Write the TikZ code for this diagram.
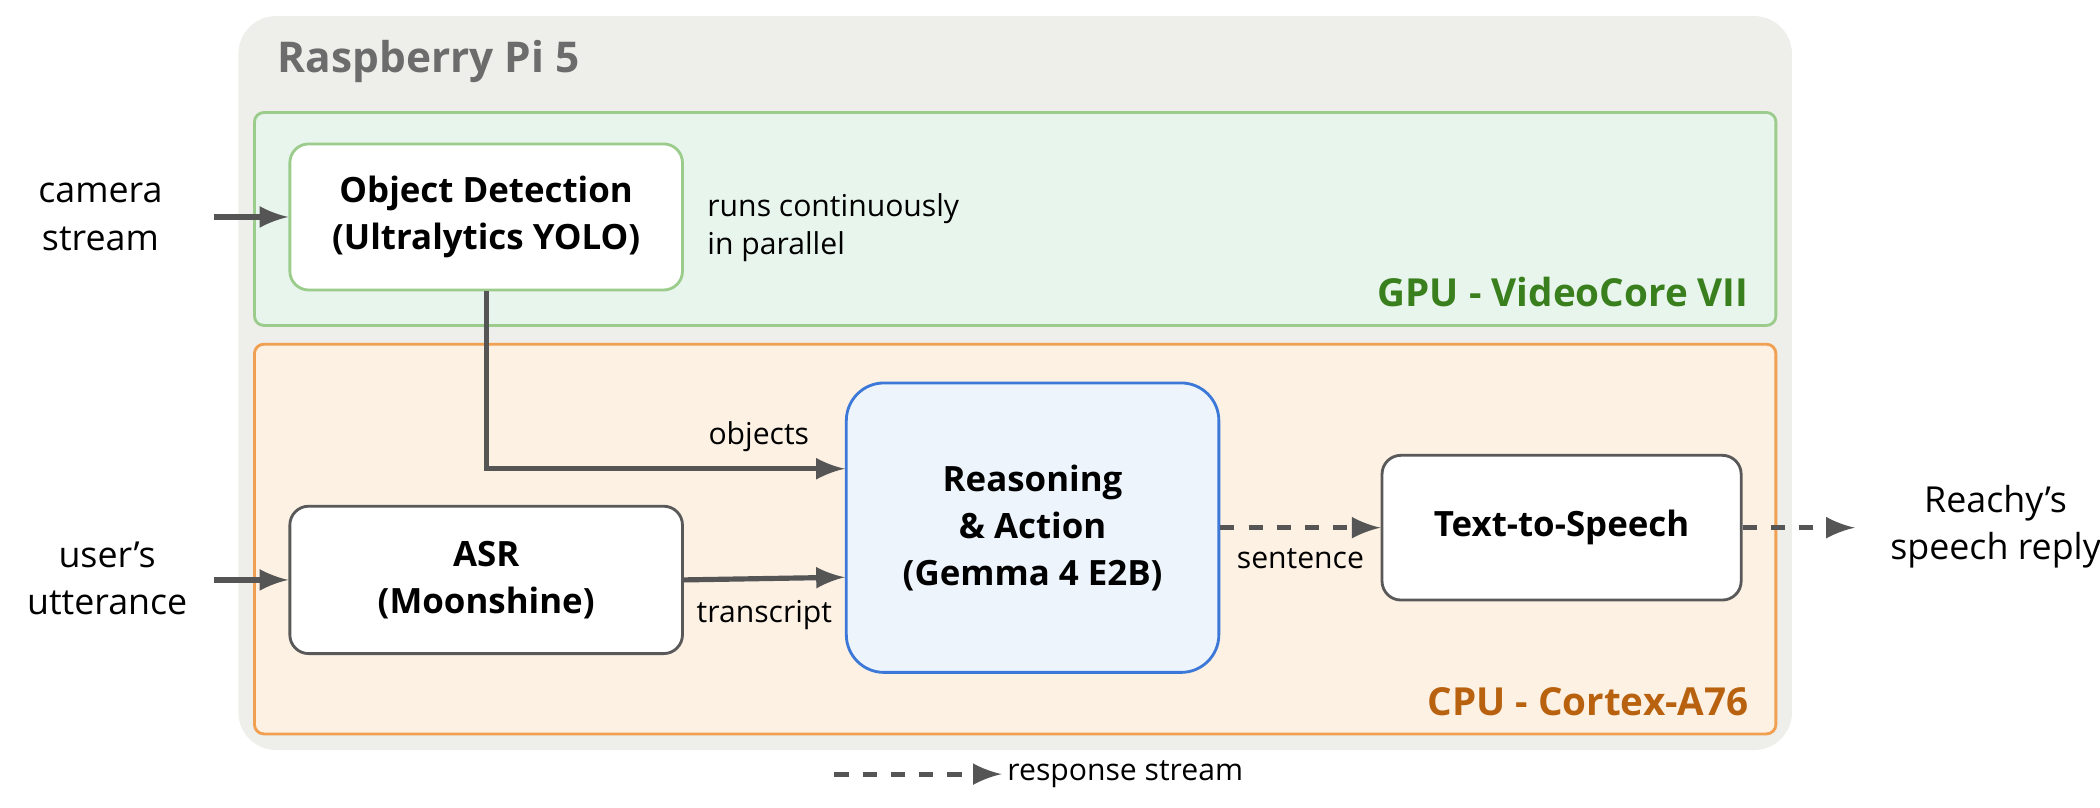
\documentclass[tikz,border=0pt]{standalone}
\usepackage{fontspec}
\setmainfont{Open Sans}
\usetikzlibrary{positioning}
\definecolor{pigray}{HTML}{EEEEEA}
\definecolor{gpufill}{HTML}{E8F5EC}
\definecolor{gpuline}{HTML}{9CCC8C}
\definecolor{gputext}{HTML}{3A7F1E}
\definecolor{cpufill}{HTML}{FDF1E4}
\definecolor{cpuline}{HTML}{F0A050}
\definecolor{cputext}{HTML}{B8620F}
\definecolor{llmfill}{HTML}{EDF4FC}
\definecolor{llmline}{HTML}{3B78D8}
\definecolor{arrowgray}{HTML}{555555}
\begin{document}
\begin{tikzpicture}[x=0.01cm,y=-0.01cm,
  every path/.style={>=latex},
  block/.style={draw=#1,rectangle,rounded corners=4pt,fill=white,line width=0.6pt,
    align=center,font=\fontsize{7.4}{10}\selectfont\bfseries},
  flow/.style={->,draw=arrowgray,line width=1.1pt},
  stream/.style={flow,dashed},
  lbl/.style={font=\fontsize{6.4}{8}\selectfont,inner sep=1pt}]
\useasboundingbox (0,0) rectangle (1568,603);
\fill[pigray,rounded corners=8pt] (178,12) rectangle (1338,560);
\node[anchor=west,text=gray!85!black,font=\fontsize{9}{11}\selectfont\bfseries] (pi) at (195,46) {Raspberry Pi 5};
\draw[gpuline,fill=gpufill,line width=0.6pt,rounded corners=2pt] (190,84) rectangle (1326,243);
\node[anchor=east,text=gputext,font=\fontsize{8.2}{10}\selectfont\bfseries] (gpu) at (1318,218) {GPU - VideoCore VII};
\draw[cpuline,fill=cpufill,line width=0.6pt,rounded corners=2pt] (190,257) rectangle (1326,548);
\node[anchor=east,text=cputext,font=\fontsize{8.2}{10}\selectfont\bfseries] (cpu) at (1318,524) {CPU - Cortex-A76};
% blocks
\node[block=gpuline,minimum width=2.93cm,minimum height=1.09cm] (det) at (363,162) {Object Detection\\(Ultralytics YOLO)};
\node[block=gray!70!black,minimum width=2.93cm,minimum height=1.1cm] (asr) at (363,433) {ASR\\(Moonshine)};
\node[block=llmline,fill=llmfill,rounded corners=8pt,minimum width=2.78cm,minimum height=2.16cm] (llm) at (771,394) {Reasoning\\\& Action\\(Gemma 4 E2B)};
\node[block=gray!70!black,minimum width=2.68cm,minimum height=1.08cm] (tts) at (1166,394) {Text-to-Speech};
% outside texts
\node[align=center,font=\fontsize{7.6}{10}\selectfont] (cam) at (75,162) {camera\\stream};
\node[align=center,font=\fontsize{7.6}{10}\selectfont] (user) at (80,432) {user’s\\utterance};
\node[align=center,font=\fontsize{7.6}{10}\selectfont] (reply) at (1490,393) {Reachy’s\\speech reply};
\node[lbl,align=left,anchor=west] (note) at (524,170) {runs continuously\\in parallel};
\coordinate (camout) at (160,162);
\coordinate (userout) at (160,433);
\coordinate (replyin) at (1385,394);
% connectors
\draw[flow] (camout) -- (det.west);
\draw[flow] (userout) -- (asr.west);
\draw[flow] (det.south) |- node[lbl,pos=0.88,above=2pt] {objects} (llm.west |- 0,350);
\draw[flow] (asr.east) -- node[lbl,pos=0.5,below=3pt] {transcript} (llm.west |- 0,431);
\draw[stream] (llm.east) -- node[lbl,below=3pt] {sentence} (tts.west);
\draw[stream] (tts.east) -- (replyin);
% legend
\coordinate (legA) at (623,578);
\node[lbl,anchor=west] (leg) at (748,578) {response stream};
\draw[stream] (legA) -- (leg.west);
\end{tikzpicture}
\end{document}
